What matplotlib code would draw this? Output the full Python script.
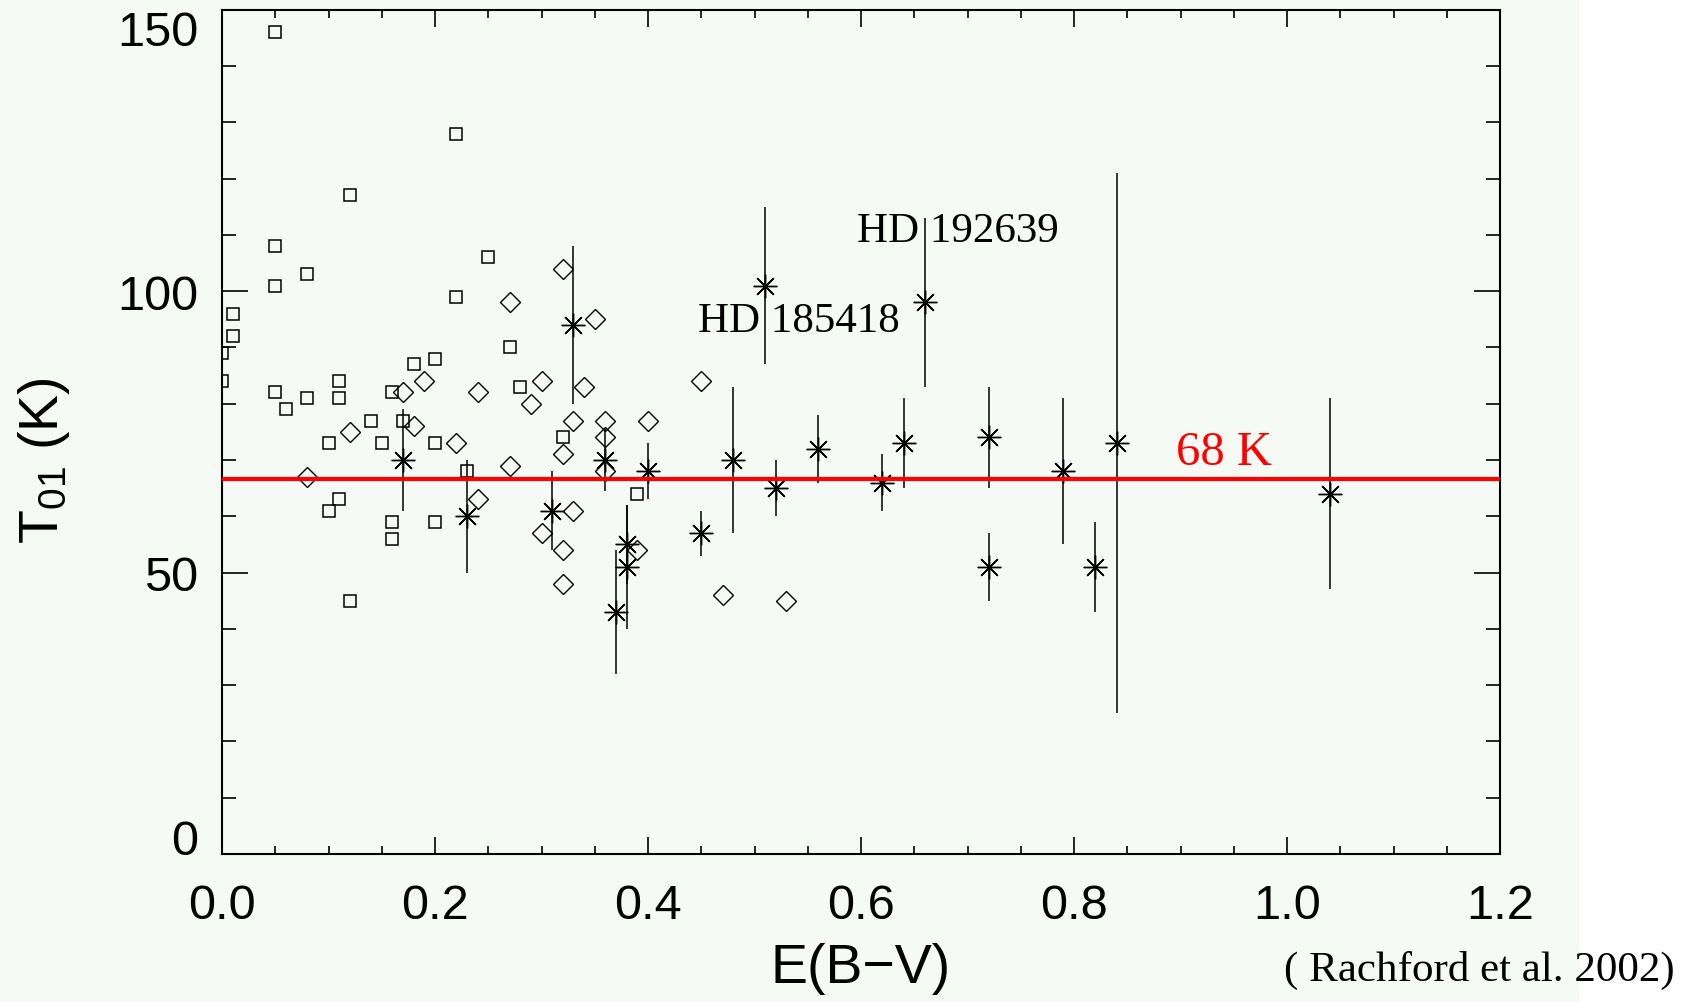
import matplotlib
matplotlib.use('Agg')
import matplotlib.pyplot as plt
from matplotlib.patches import Rectangle

plt.rcParams['font.family'] = ['Liberation Sans', 'DejaVu Sans']
plt.rcParams['mathtext.default'] = 'regular'

# open squares
x_sq = [0.05, 0.22, 0.12, 0.05, 0.25, 0.08, 0.05, 0.22, 0.01, 0.01, 0.0, 0.0,
        0.27, 0.18, 0.20, 0.11, 0.11, 0.05, 0.08, 0.06, 0.16, 0.28, 0.14, 0.17,
        0.10, 0.15, 0.20, 0.32, 0.23, 0.11, 0.10, 0.16, 0.16, 0.20, 0.12, 0.39]
y_sq = [146, 128, 117, 108, 106, 103, 101, 99, 96, 92, 89, 84,
        90, 87, 88, 84, 81, 82, 81, 79, 82, 83, 77, 77,
        73, 73, 73, 74, 68, 63, 61, 59, 56, 59, 45, 64]

# open diamonds
x_dia = [0.32, 0.27, 0.35, 0.19, 0.30, 0.17, 0.24, 0.34, 0.45, 0.29, 0.12, 0.18,
         0.22, 0.33, 0.36, 0.36, 0.40, 0.32, 0.27, 0.36, 0.08, 0.24, 0.33, 0.30,
         0.32, 0.39, 0.32, 0.47, 0.53]
y_dia = [104, 98, 95, 84, 84, 82, 82, 83, 84, 80, 75, 76,
         73, 77, 77, 74, 77, 71, 69, 68, 67, 63, 61, 57,
         54, 54, 48, 46, 45]

# asterisks with error bars
x_ast = [0.17, 0.23, 0.31, 0.33, 0.36, 0.37, 0.38, 0.38, 0.40, 0.45, 0.48, 0.51,
         0.52, 0.56, 0.62, 0.64, 0.66, 0.72, 0.72, 0.79, 0.82, 0.84, 1.04]
y_ast = [70, 60, 61, 94, 70, 43, 55, 51, 68, 57, 70, 101,
         65, 72, 66, 73, 98, 74, 51, 68, 51, 73, 64]
err_ast = [9, 10, 7, 14, 5.5, 11, 7, 11, 5, 4, 13, 14,
           5, 6, 5, 8, 15, 9, 6, 13, 8, 48, 17]

mean_T = 66.7
mean_label = '68 K'
stars = ['HD 185418', 'HD 192639']
star_pos = [(0.447, 92.9), (0.596, 108.9)]

bg = '#f5faf5'
fig = plt.figure(figsize=(16.82, 10.03), dpi=100, facecolor=bg)
fig.patches.append(Rectangle((0.9388, 0), 0.07, 1, transform=fig.transFigure,
                             facecolor='white', edgecolor='none', zorder=0))
ax = fig.add_axes([222/1682, 1-855/1003, 1278/1682, 844.3/1003])
ax.set_facecolor(bg)

ax.plot(x_sq, y_sq, 's', ms=8.5, mfc='none', mec='black', mew=1.1)
ax.plot(x_dia, y_dia, 'D', ms=10.5, mfc='none', mec='black', mew=1.0)
ax.errorbar(x_ast, y_ast, yerr=err_ast, fmt='none', ecolor='black',
            elinewidth=1.1, capsize=0)
ax.plot(x_ast, y_ast, ls='none', marker=(8, 2, 0), ms=17, mec='black', mew=1.0)

ax.axhline(mean_T, color='#ff0000', lw=3, zorder=5)
ax.text(0.896, 69.2, mean_label, color='#ff0000', fontsize=35,
        family='Liberation Serif', ha='left', va='baseline')
for s, (sx, sy) in zip(stars, star_pos):
    ax.text(sx, sy, s, fontsize=31, family='Liberation Serif',
            ha='left', va='baseline')

ax.set_xlim(0, 1.2)
ax.set_ylim(0, 150)
ax.set_xticks([0.0, 0.2, 0.4, 0.6, 0.8, 1.0, 1.2])
ax.set_xticklabels(['0.0', '0.2', '0.4', '0.6', '0.8', '1.0', '1.2'])
ax.set_xticks([i*0.05 for i in range(25)], minor=True)
ax.set_yticks([0, 50, 100, 150])
ax.set_yticks(range(0, 151, 10), minor=True)

ax.tick_params(axis='both', which='both', direction='in', top=True, right=True,
               labelsize=35, colors='black')
ax.tick_params(axis='x', which='major', length=12, width=1.2, pad=21)
ax.tick_params(axis='x', which='minor', length=6, width=1.2)
ax.tick_params(axis='y', which='major', length=19, width=1.2, pad=17)
ax.tick_params(axis='y', which='minor', length=10, width=1.2)
for sp in ax.spines.values():
    sp.set_linewidth(1.5)

# keep end labels inside like the original
yt = ax.yaxis.get_major_ticks()
yt[0].label1.set_verticalalignment('baseline')
yt[-1].label1.set_verticalalignment('top')

ax.set_xlabel('E(B\u2212V)', fontsize=40, labelpad=10)
ax.set_ylabel('T$_{01}$ (K)', fontsize=40)
ax.yaxis.set_label_coords(-0.117, 0.467)

fig.text(1284/1682, 0.032, '( Rachford et al. 2002)', fontsize=31,
         family='Liberation Serif', ha='left', va='center')

fig.savefig('out.png', dpi=100, facecolor=bg)
